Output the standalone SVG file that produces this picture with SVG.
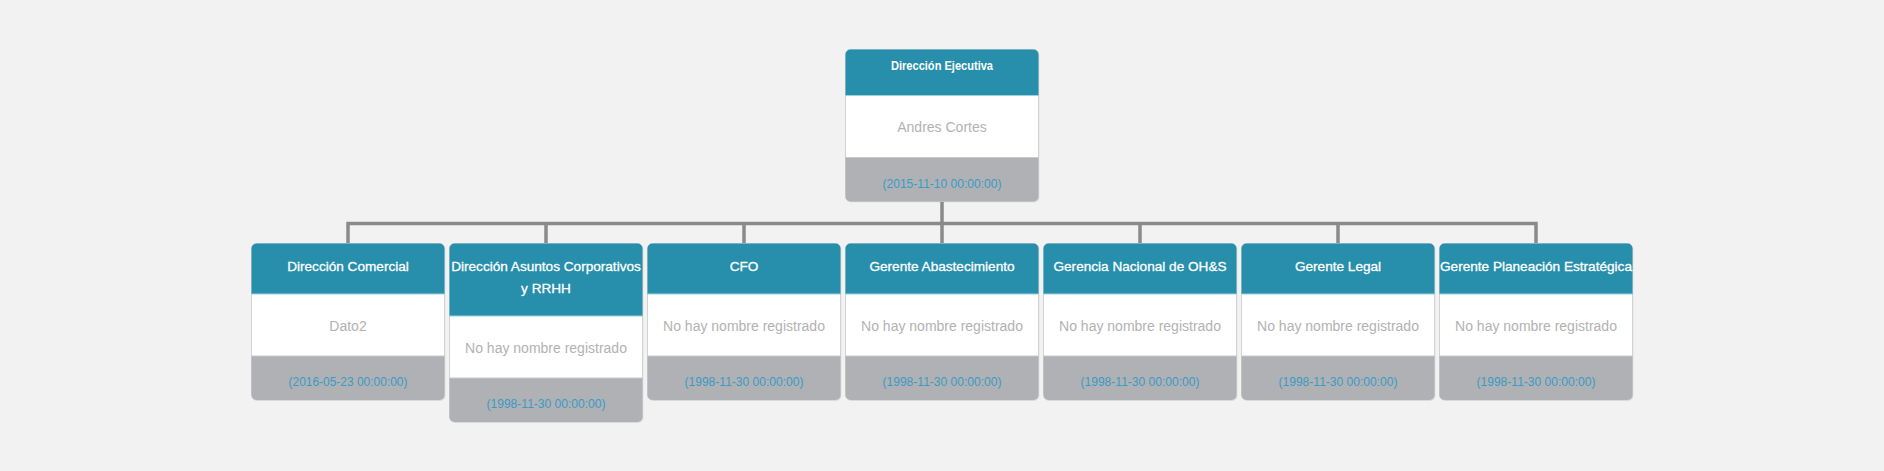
<svg xmlns="http://www.w3.org/2000/svg" width="1884" height="471" viewBox="0 0 1884 471">
<style>
.bg{fill:#f2f2f2}
.card{fill:#ffffff;stroke:#d2d2d2;stroke-width:1}
.shadow{fill:#000;opacity:0.06}
.hd{fill:#278eac}
.hdline{stroke:#9fd0df;stroke-width:1.2}
.ft{fill:#b0b1b5}
.ftline{stroke:#c9cacd;stroke-width:1}
.t{font-family:"Liberation Sans",Arial,sans-serif;text-anchor:middle}
.ht{fill:#ffffff;font-size:13.6px;stroke:#ffffff;stroke-width:0.3}
.ht0{fill:#ffffff;font-size:12px;font-weight:bold}
.bt{fill:#b2b2b2;font-size:14px}
.dt{fill:#3a9bc3;font-size:12.6px}
.conn{fill:none;stroke:#8a8a8a;stroke-width:3.5}
</style>
<rect class="bg" x="0" y="0" width="1884" height="471"/>
<g id="connectors">
<path class="conn" d="M942 201.5 V223.5 M346.25 223.5 H1537.75 M348 223.5 V243.5 M546 223.5 V243.5 M744 223.5 V243.5 M942 223.5 V243.5 M1140 223.5 V243.5 M1338 223.5 V243.5 M1536 223.5 V243.5"/>
</g>
<g id="node-direccion-ejecutiva">
<rect class="shadow" x="846.5" y="50.5" width="193" height="152" rx="5"/>
<rect class="card" x="845.5" y="49.5" width="193" height="152" rx="5"/>
<path class="hd" d="M845.5 54.5 a5 5 0 0 1 5 -5 h183 a5 5 0 0 1 5 5 v41 h-193 z"/>
<line class="hdline" x1="845.5" y1="95.5" x2="1038.5" y2="95.5"/>
<path class="ft" d="M845.5 157.5 h193 v39 a5 5 0 0 1 -5 5 h-183 a5 5 0 0 1 -5 -5 z"/>
<line class="ftline" x1="846" y1="157.5" x2="1038" y2="157.5"/>
<text class="t ht0" x="942" y="70" textLength="102" lengthAdjust="spacingAndGlyphs">Dirección Ejecutiva</text>
<text class="t bt" x="942" y="132">Andres Cortes</text>
<text class="t dt" x="942" y="187.5" textLength="119" lengthAdjust="spacingAndGlyphs">(2015-11-10 00:00:00)</text>
</g>
<g id="node-direccion-comercial">
<rect class="shadow" x="252.5" y="244.5" width="193" height="156.5" rx="5"/>
<rect class="card" x="251.5" y="243.5" width="193" height="156.5" rx="5"/>
<path class="hd" d="M251.5 248.5 a5 5 0 0 1 5 -5 h183 a5 5 0 0 1 5 5 v45.5 h-193 z"/>
<line class="hdline" x1="251.5" y1="294" x2="444.5" y2="294"/>
<path class="ft" d="M251.5 356 h193 v39 a5 5 0 0 1 -5 5 h-183 a5 5 0 0 1 -5 -5 z"/>
<line class="ftline" x1="252" y1="356" x2="444" y2="356"/>
<text class="t ht" x="348" y="270.5">Dirección Comercial</text>
<text class="t bt" x="348" y="330.5">Dato2</text>
<text class="t dt" x="348" y="385.5" textLength="119" lengthAdjust="spacingAndGlyphs">(2016-05-23 00:00:00)</text>
</g>
<g id="node-direccion-asuntos-corporativos">
<rect class="shadow" x="450.5" y="244.5" width="193" height="178.5" rx="5"/>
<rect class="card" x="449.5" y="243.5" width="193" height="178.5" rx="5"/>
<path class="hd" d="M449.5 248.5 a5 5 0 0 1 5 -5 h183 a5 5 0 0 1 5 5 v67.5 h-193 z"/>
<line class="hdline" x1="449.5" y1="316" x2="642.5" y2="316"/>
<path class="ft" d="M449.5 378 h193 v39 a5 5 0 0 1 -5 5 h-183 a5 5 0 0 1 -5 -5 z"/>
<line class="ftline" x1="450" y1="378" x2="642" y2="378"/>
<text class="t ht" x="546" y="270.5">Dirección Asuntos Corporativos</text>
<text class="t ht" x="546" y="292.5">y RRHH</text>
<text class="t bt" x="546" y="352.5">No hay nombre registrado</text>
<text class="t dt" x="546" y="407.5" textLength="119" lengthAdjust="spacingAndGlyphs">(1998-11-30 00:00:00)</text>
</g>
<g id="node-cfo">
<rect class="shadow" x="648.5" y="244.5" width="193" height="156.5" rx="5"/>
<rect class="card" x="647.5" y="243.5" width="193" height="156.5" rx="5"/>
<path class="hd" d="M647.5 248.5 a5 5 0 0 1 5 -5 h183 a5 5 0 0 1 5 5 v45.5 h-193 z"/>
<line class="hdline" x1="647.5" y1="294" x2="840.5" y2="294"/>
<path class="ft" d="M647.5 356 h193 v39 a5 5 0 0 1 -5 5 h-183 a5 5 0 0 1 -5 -5 z"/>
<line class="ftline" x1="648" y1="356" x2="840" y2="356"/>
<text class="t ht" x="744" y="270.5">CFO</text>
<text class="t bt" x="744" y="330.5">No hay nombre registrado</text>
<text class="t dt" x="744" y="385.5" textLength="119" lengthAdjust="spacingAndGlyphs">(1998-11-30 00:00:00)</text>
</g>
<g id="node-gerente-abastecimiento">
<rect class="shadow" x="846.5" y="244.5" width="193" height="156.5" rx="5"/>
<rect class="card" x="845.5" y="243.5" width="193" height="156.5" rx="5"/>
<path class="hd" d="M845.5 248.5 a5 5 0 0 1 5 -5 h183 a5 5 0 0 1 5 5 v45.5 h-193 z"/>
<line class="hdline" x1="845.5" y1="294" x2="1038.5" y2="294"/>
<path class="ft" d="M845.5 356 h193 v39 a5 5 0 0 1 -5 5 h-183 a5 5 0 0 1 -5 -5 z"/>
<line class="ftline" x1="846" y1="356" x2="1038" y2="356"/>
<text class="t ht" x="942" y="270.5">Gerente Abastecimiento</text>
<text class="t bt" x="942" y="330.5">No hay nombre registrado</text>
<text class="t dt" x="942" y="385.5" textLength="119" lengthAdjust="spacingAndGlyphs">(1998-11-30 00:00:00)</text>
</g>
<g id="node-gerencia-ohs">
<rect class="shadow" x="1044.5" y="244.5" width="193" height="156.5" rx="5"/>
<rect class="card" x="1043.5" y="243.5" width="193" height="156.5" rx="5"/>
<path class="hd" d="M1043.5 248.5 a5 5 0 0 1 5 -5 h183 a5 5 0 0 1 5 5 v45.5 h-193 z"/>
<line class="hdline" x1="1043.5" y1="294" x2="1236.5" y2="294"/>
<path class="ft" d="M1043.5 356 h193 v39 a5 5 0 0 1 -5 5 h-183 a5 5 0 0 1 -5 -5 z"/>
<line class="ftline" x1="1044" y1="356" x2="1236" y2="356"/>
<text class="t ht" x="1140" y="270.5">Gerencia Nacional de OH&amp;S</text>
<text class="t bt" x="1140" y="330.5">No hay nombre registrado</text>
<text class="t dt" x="1140" y="385.5" textLength="119" lengthAdjust="spacingAndGlyphs">(1998-11-30 00:00:00)</text>
</g>
<g id="node-gerente-legal">
<rect class="shadow" x="1242.5" y="244.5" width="193" height="156.5" rx="5"/>
<rect class="card" x="1241.5" y="243.5" width="193" height="156.5" rx="5"/>
<path class="hd" d="M1241.5 248.5 a5 5 0 0 1 5 -5 h183 a5 5 0 0 1 5 5 v45.5 h-193 z"/>
<line class="hdline" x1="1241.5" y1="294" x2="1434.5" y2="294"/>
<path class="ft" d="M1241.5 356 h193 v39 a5 5 0 0 1 -5 5 h-183 a5 5 0 0 1 -5 -5 z"/>
<line class="ftline" x1="1242" y1="356" x2="1434" y2="356"/>
<text class="t ht" x="1338" y="270.5">Gerente Legal</text>
<text class="t bt" x="1338" y="330.5">No hay nombre registrado</text>
<text class="t dt" x="1338" y="385.5" textLength="119" lengthAdjust="spacingAndGlyphs">(1998-11-30 00:00:00)</text>
</g>
<g id="node-gerente-planeacion">
<rect class="shadow" x="1440.5" y="244.5" width="193" height="156.5" rx="5"/>
<rect class="card" x="1439.5" y="243.5" width="193" height="156.5" rx="5"/>
<path class="hd" d="M1439.5 248.5 a5 5 0 0 1 5 -5 h183 a5 5 0 0 1 5 5 v45.5 h-193 z"/>
<line class="hdline" x1="1439.5" y1="294" x2="1632.5" y2="294"/>
<path class="ft" d="M1439.5 356 h193 v39 a5 5 0 0 1 -5 5 h-183 a5 5 0 0 1 -5 -5 z"/>
<line class="ftline" x1="1440" y1="356" x2="1632" y2="356"/>
<text class="t ht" x="1536" y="270.5">Gerente Planeación Estratégica</text>
<text class="t bt" x="1536" y="330.5">No hay nombre registrado</text>
<text class="t dt" x="1536" y="385.5" textLength="119" lengthAdjust="spacingAndGlyphs">(1998-11-30 00:00:00)</text>
</g>
</svg>
